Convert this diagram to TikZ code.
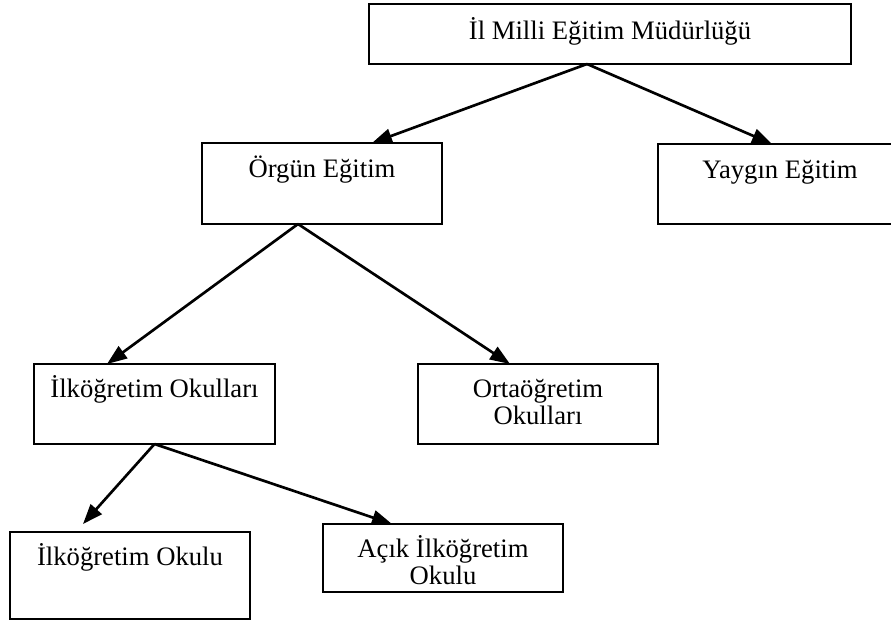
\documentclass[tikz,border=0pt]{standalone}
\usepackage{fontspec}
\setmainfont{Liberation Serif}
\usetikzlibrary{arrows.meta,calc}
\begin{document}
\begin{tikzpicture}[x=0.75pt,y=-0.75pt,
  box/.style={draw=black,line width=1.6pt,rectangle,inner sep=0pt,outer sep=0pt},
  lbl/.style={anchor=base,inner sep=0pt,align=center,
    font=\fontsize{20}{20}\selectfont},
  link/.style={line width=2pt,-{Triangle[length=15pt,width=11pt]}}]
  \useasboundingbox (0,0) rectangle (891,620);
  \clip (0,0) rectangle (891,620);

  % organisation boxes
  \node[box,minimum width=482*0.75pt,minimum height=60*0.75pt] (b1) at (610,34) {};
  \node[box,minimum width=240*0.75pt,minimum height=81*0.75pt] (b2) at (322,183.5) {};
  \node[box,minimum width=244*0.75pt,minimum height=80*0.75pt] (b3) at (780,184) {};
  \node[box,minimum width=241*0.75pt,minimum height=80*0.75pt] (b4) at (154.5,404) {};
  \node[box,minimum width=240*0.75pt,minimum height=80*0.75pt] (b5) at (538,404) {};
  \node[box,minimum width=240*0.75pt,minimum height=87*0.75pt] (b6) at (130,575.5) {};
  \node[box,minimum width=240*0.75pt,minimum height=68*0.75pt] (b7) at (443,558) {};

  % box titles (multi-line titles sit on the baseline of their last line)
  \node[lbl] (t1) at (610,40) {İl Milli Eğitim Müdürlüğü};
  \node[lbl] (t2) at (322,178) {Örgün Eğitim};
  \node[lbl] (t3) at (780,179) {Yaygın Eğitim};
  \node[lbl] (t4) at (154.5,397) {İlköğretim Okulları};
  \node[lbl] (t5) at (538,424) {Ortaöğretim\\Okulları};
  \node[lbl] (t6) at (130,565) {İlköğretim Okulu};
  \node[lbl] (t7) at (443,584) {Açık İlköğretim\\Okulu};

  % connectors
  \coordinate (s1) at ($(b1.south)+(-23,0)$);
  \coordinate (s2) at ($(b2.south)+(-24,0)$);
  \coordinate (s4) at (b4.south);
  \draw[link] (s1) -- ($(b2.north)+(50,0)$);
  \draw[link] (s1) -- ($(b3.north)+(-8,0)$);
  \draw[link] (s2) -- ($(b4.north)+(-47.5,0)$);
  \draw[link] (s2) -- ($(b5.north)+(-28,0)$);
  \draw[link] (s4) -- ($(b6.north)+(-47,-8)$);
  \draw[link] (s4) -- ($(b7.north)+(-51,0)$);
\end{tikzpicture}
\end{document}
